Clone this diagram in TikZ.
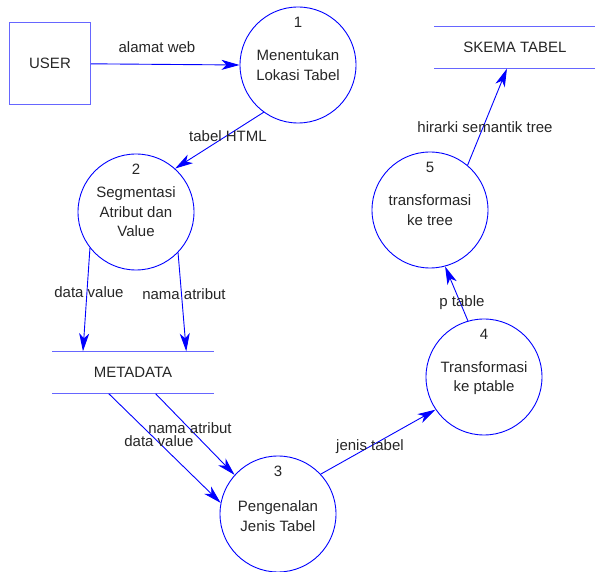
\documentclass[tikz,border=0pt]{standalone}
\usepackage{fontspec}
\setmainfont{Liberation Sans}
\usetikzlibrary{arrows.meta,calc,positioning}
\tikzset{>={Stealth[length=18pt,width=10pt,inset=5pt]}}
\colorlet{background}{white}
\colorlet{penColor}{blue}
\colorlet{penColorLight}{blue!60!background}
\colorlet{textColor}{black!85}
\tikzset{
  txt/.style={text=textColor,font=\fontsize{15}{19.5}\selectfont,inner sep=1pt},
  proc/.style={circle,draw=penColor,line width=0.9pt,minimum size=116pt,inner sep=0pt},
  ext/.style={rectangle,draw=penColorLight,line width=1pt,minimum width=81pt,minimum height=82pt,txt},
  store/.style={rectangle,minimum width=161pt,minimum height=42pt,txt},
  flow/.style={->,penColor,line width=0.9pt}
}

\begin{document}
\begin{tikzpicture}[x=1pt,y=1pt]
\useasboundingbox (0,0) rectangle (595,571);
% entitas luar dan data store
\node[ext] (user) at (50,507.5) {USER};
\node[store] (skema) at (515,523.5) {SKEMA TABEL};
\node[store] (meta) at (133,198.5) {METADATA};
\foreach \s in {skema,meta}{
  \draw[penColorLight,line width=1pt] (\s.north west) -- (\s.north east);
  \draw[penColorLight,line width=1pt] (\s.south west) -- (\s.south east);
}
% proses
\node[proc] (p1) at (298,506) {};
\node[proc] (p2) at (136,359) {};
\node[proc] (p3) at (278,57) {};
\node[proc] (p4) at (484,194) {};
\node[proc] (p5) at (430,361) {};
\node[txt] at ($(p1)+(0,43)$) {1};
\node[txt] at ($(p2)+(0,43)$) {2};
\node[txt] at ($(p3)+(0,43)$) {3};
\node[txt] at ($(p4)+(0,43)$) {4};
\node[txt] at ($(p5)+(0,43)$) {5};
\node[txt,align=center] at (p1) {Menentukan\\Lokasi Tabel};
\node[txt,align=center] at (p2) {Segmentasi\\Atribut dan\\Value};
\node[txt,align=center] at ($(p3)+(0,-2)$) {Pengenalan\\Jenis Tabel};
\node[txt,align=center] at ($(p4)+(0,-1)$) {Transformasi\\ke ptable};
\node[txt,align=center] at (p5) {transformasi\\ke tree};
% aliran data
\draw[flow] (user) -- (p1.west);
\draw[flow] (p1.234) -- (p2.48);
\draw[flow] (p2.218) -- ($(meta.north west)!0.19!(meta.north east)$);
\draw[flow] (p2.316) -- ($(meta.north west)!0.83!(meta.north east)$);
\draw[flow] ($(meta.south west)!0.35!(meta.south east)$) -- (p3.169);
\draw[flow] ($(meta.south west)!0.64!(meta.south east)$) -- (p3.138);
\draw[flow] (p3.43) -- (p4.214);
\draw[flow] (p4.106) -- (p5.285);
\draw[flow] (p5.50) -- ($(skema.south west)!0.45!(skema.south east)$);
% label aliran
\node[txt] at (157,524) {alamat web};
\node[txt] at (228,435) {tabel HTML};
\node[txt] at (89,279) {data value};
\node[txt] at (184,277) {nama atribut};
\node[txt] at (159,130) {data value};
\node[txt] at (190,143) {nama atribut};
\node[txt] at (370,124) {jenis tabel};
\node[txt] at (462,268) {p table};
\node[txt] at (485,444) {hirarki semantik tree};
\end{tikzpicture}
\end{document}
